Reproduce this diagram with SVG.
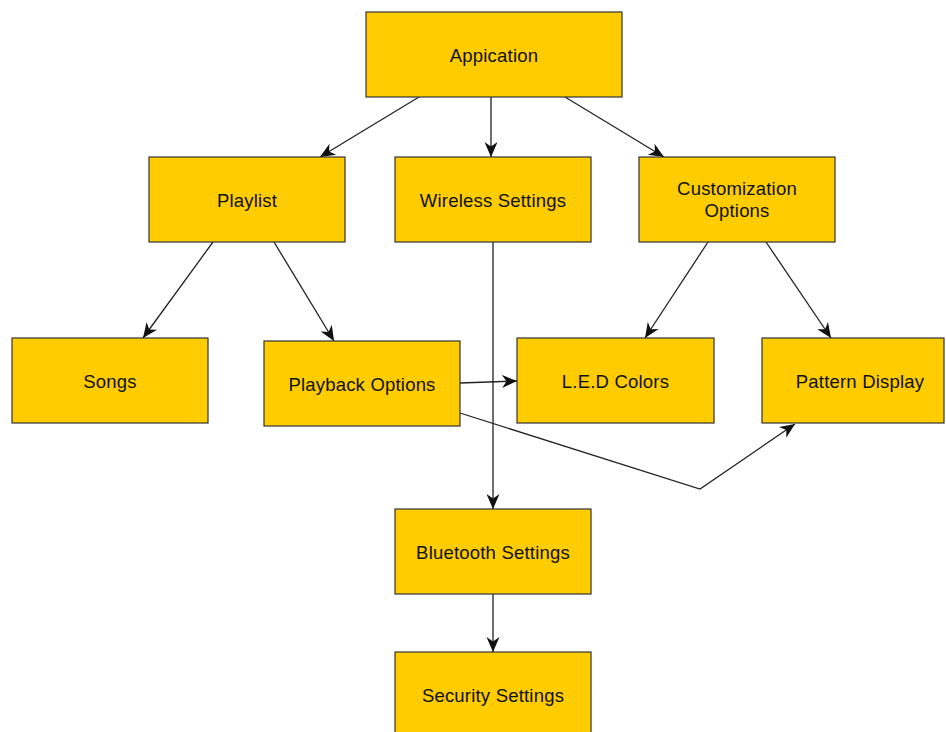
<svg xmlns="http://www.w3.org/2000/svg" width="946" height="732" viewBox="0 0 946 732">
<defs>
<marker id="arr" viewBox="0 0 15 15" refX="15" refY="7.5" markerWidth="15" markerHeight="15" markerUnits="userSpaceOnUse" orient="auto">
<path d="M15 7.5 L0 1 L4.5 7.5 L0 14 Z" fill="#111"/>
</marker>
<style>
.box{fill:#FFCC00;stroke:#333;stroke-width:1.2}
.lbl{font-family:"Liberation Sans",Arial,sans-serif;font-size:18.5px;letter-spacing:0.2px;fill:#111;text-anchor:middle}
.con{fill:none;stroke:#222;stroke-width:1.3;marker-end:url(#arr)}
</style>
</defs>
<rect width="946" height="732" fill="#fff"/>
<g id="connectors">
<line class="con" x1="419" y1="97" x2="320" y2="157"/>
<line class="con" x1="491" y1="97" x2="491" y2="157"/>
<line class="con" x1="565" y1="97" x2="664" y2="157"/>
<line class="con" x1="213" y1="242" x2="143" y2="338"/>
<line class="con" x1="274" y1="242" x2="334" y2="341"/>
<line class="con" x1="493" y1="242" x2="493" y2="509"/>
<line class="con" x1="708" y1="242" x2="645" y2="338"/>
<line class="con" x1="766" y1="242" x2="831" y2="338"/>
<line class="con" x1="460" y1="383" x2="517" y2="381"/>
<polyline class="con" points="460,413 700,489 795,424"/>
<line class="con" x1="493" y1="594" x2="493" y2="652"/>
</g>
<g id="application"><rect class="box" x="366" y="12" width="256" height="85"/><text class="lbl" x="494" y="61.5">Appication</text></g>
<g id="playlist"><rect class="box" x="149" y="157" width="196" height="85"/><text class="lbl" x="247" y="206.5">Playlist</text></g>
<g id="wireless"><rect class="box" x="395" y="157" width="196" height="85"/><text class="lbl" x="493" y="206.5">Wireless Settings</text></g>
<g id="customization"><rect class="box" x="639" y="157" width="196" height="85"/><text class="lbl" x="737" y="195">Customization</text><text class="lbl" x="737" y="217">Options</text></g>
<g id="songs"><rect class="box" x="12" y="338" width="196" height="85"/><text class="lbl" x="110" y="387.5">Songs</text></g>
<g id="playback"><rect class="box" x="264" y="341" width="196" height="85"/><text class="lbl" x="362" y="390.5">Playback Options</text></g>
<g id="led"><rect class="box" x="517" y="338" width="197" height="85"/><text class="lbl" x="615.5" y="387.5">L.E.D Colors</text></g>
<g id="pattern"><rect class="box" x="762" y="338" width="182" height="85"/><text class="lbl" x="860" y="387.5">Pattern Display</text></g>
<g id="bluetooth"><rect class="box" x="395" y="509" width="196" height="85"/><text class="lbl" x="493" y="558.5">Bluetooth Settings</text></g>
<g id="security"><rect class="box" x="395" y="652" width="196" height="86"/><text class="lbl" x="493" y="701.5">Security Settings</text></g>
</svg>
